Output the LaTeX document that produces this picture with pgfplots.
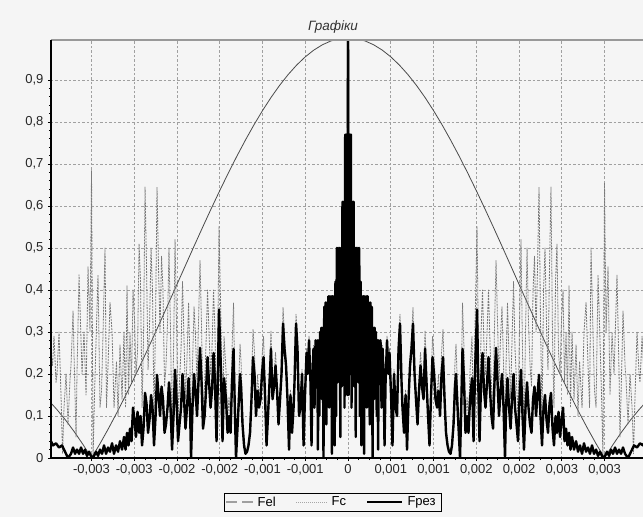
\documentclass[border=0pt]{standalone}
\usepackage{fontspec}
\setmainfont{Liberation Sans}
\usepackage{pgfplots}
\usepackage{pgfplotstable}
\pgfplotsset{compat=1.18}
\definecolor{bg}{HTML}{F5F5F5}
\definecolor{gridc}{HTML}{A0A0A0}
\definecolor{felc}{HTML}{4A4A4A}
\definecolor{fcc}{HTML}{7A7A7A}

% x in units of 1e-3
\pgfplotstableread{
x y
-3.474 0.1309
-3.4 0.1142
-3.3 0.0894
-3.2 0.0620
-3.1 0.0322
-3.0 0.0
-2.9 0.0344
-2.8 0.0709
-2.7 0.1093
-2.6 0.1494
-2.5 0.1910
-2.4 0.2339
-2.3 0.2778
-2.2 0.3226
-2.1 0.3679
-2.0 0.4135
-1.9 0.4591
-1.8 0.5046
-1.7 0.5495
-1.6 0.5936
-1.5 0.6366
-1.4 0.6784
-1.3 0.7185
-1.2 0.7568
-1.1 0.7931
-1.0 0.8270
-0.9 0.8584
-0.8 0.8871
-0.7 0.9128
-0.6 0.9355
-0.5 0.9549
-0.4 0.9710
-0.3 0.9836
-0.2 0.9927
-0.1 0.9982
0.0 1.0
0.1 0.9982
0.2 0.9927
0.3 0.9836
0.4 0.9710
0.5 0.9549
0.6 0.9355
0.7 0.9128
0.8 0.8871
0.9 0.8584
1.0 0.8270
1.1 0.7931
1.2 0.7568
1.3 0.7185
1.4 0.6784
1.5 0.6366
1.6 0.5936
1.7 0.5495
1.8 0.5046
1.9 0.4591
2.0 0.4135
2.1 0.3679
2.2 0.3226
2.3 0.2778
2.4 0.2339
2.5 0.1910
2.6 0.1494
2.7 0.1093
2.8 0.0709
2.9 0.0344
3.0 0.0
3.1 0.0322
3.2 0.0620
3.3 0.0894
3.4 0.1142
3.474 0.1309
}\felT

\pgfplotstableread{
x y
0.000 1.00
0.008 0.15
0.016 0.77
0.025 0.20
0.033 0.77
0.041 0.12
0.049 0.61
0.057 0.25
0.065 0.61
0.074 0.17
0.082 0.50
0.090 0.05
0.098 0.50
0.106 0.22
0.115 0.50
0.123 0.18
0.131 0.50
0.139 0.10
0.147 0.42
0.156 0.03
0.164 0.385
0.172 0.20
0.180 0.385
0.188 0.01
0.196 0.385
0.205 0.25
0.213 0.385
0.221 0.12
0.229 0.385
0.237 0.22
0.246 0.37
0.254 0.08
0.262 0.37
0.270 0.20
0.278 0.36
0.287 0.00
0.295 0.31
0.303 0.14
0.311 0.31
0.319 0.20
0.327 0.30
0.336 0.10
0.344 0.28
0.352 0.02
0.360 0.28
0.368 0.18
0.380 0.28
0.392 0.12
0.404 0.26
0.415 0.20
0.427 0.03
0.439 0.18
0.456 0.28
0.474 0.20
0.485 0.25
0.503 0.15
0.520 0.03
0.538 0.20
0.556 0.12
0.573 0.10
0.591 0.26
0.608 0.32
0.626 0.18
0.637 0.12
0.655 0.06
0.673 0.15
0.690 0.02
0.708 0.14
0.725 0.22
0.743 0.26
0.760 0.32
0.778 0.20
0.795 0.14
0.813 0.08
0.830 0.16
0.848 0.22
0.865 0.17
0.883 0.14
0.901 0.26
0.918 0.18
0.936 0.10
0.953 0.03
0.971 0.15
0.988 0.24
1.006 0.20
1.023 0.14
1.041 0.12
1.058 0.16
1.076 0.10
1.094 0.20
1.111 0.24
1.129 0.14
1.146 0.06
1.164 0.03
1.181 0.015
1.199 0.01
1.216 0.03
1.234 0.08
1.251 0.17
1.263 0.20
1.281 0.12
1.298 0.05
1.310 0.00
1.322 0.10
1.339 0.26
1.357 0.18
1.374 0.06
1.392 0.10
1.409 0.06
1.427 0.14
1.450 0.19
1.468 0.04
1.485 0.20
1.509 0.353
1.526 0.15
1.538 0.04
1.556 0.18
1.573 0.25
1.591 0.16
1.608 0.12
1.626 0.18
1.643 0.24
1.661 0.16
1.678 0.10
1.696 0.07
1.713 0.18
1.731 0.262
1.749 0.18
1.766 0.10
1.784 0.16
1.801 0.20
1.819 0.12
1.836 0.00
1.848 0.12
1.865 0.19
1.883 0.12
1.901 0.07
1.918 0.14
1.936 0.20
1.953 0.12
1.971 0.08
1.988 0.04
2.006 0.14
2.023 0.21
2.041 0.10
2.058 0.02
2.076 0.12
2.094 0.18
2.111 0.12
2.129 0.08
2.146 0.06
2.164 0.14
2.181 0.17
2.199 0.10
2.216 0.15
2.234 0.198
2.251 0.10
2.269 0.03
2.287 0.12
2.304 0.15
2.322 0.09
2.339 0.06
2.357 0.13
2.374 0.155
2.392 0.07
2.409 0.03
2.427 0.10
2.444 0.06
2.462 0.11
2.480 0.05
2.497 0.09
2.515 0.12
2.532 0.04
2.550 0.07
2.567 0.03
2.585 0.06
2.602 0.02
2.620 0.05
2.643 0.02
2.667 0.04
2.690 0.015
2.713 0.03
2.737 0.01
2.760 0.035
2.784 0.015
2.807 0.025
2.830 0.01
2.854 0.03
2.877 0.01
2.901 0.02
2.924 0.005
2.947 0.015
2.982 0.00
3.006 0.005
3.029 0.015
3.053 0.005
3.076 0.02
3.099 0.01
3.123 0.025
3.146 0.01
3.170 0.02
3.193 0.01
3.216 0.025
3.240 0.01
3.275 0.00
3.310 0.015
3.345 0.03
3.380 0.025
3.415 0.035
3.450 0.03
3.474 0.04
}\fresR

\pgfplotstableread{
x y
-0.000 1.00
-0.008 0.15
-0.016 0.77
-0.025 0.20
-0.033 0.77
-0.041 0.12
-0.049 0.61
-0.057 0.25
-0.065 0.61
-0.074 0.17
-0.082 0.50
-0.090 0.05
-0.098 0.50
-0.106 0.22
-0.115 0.50
-0.123 0.18
-0.131 0.50
-0.139 0.10
-0.147 0.42
-0.156 0.03
-0.164 0.385
-0.172 0.20
-0.180 0.385
-0.188 0.01
-0.196 0.385
-0.205 0.25
-0.213 0.385
-0.221 0.12
-0.229 0.385
-0.237 0.22
-0.246 0.37
-0.254 0.08
-0.262 0.37
-0.270 0.20
-0.278 0.36
-0.287 0.00
-0.295 0.31
-0.303 0.14
-0.311 0.31
-0.319 0.20
-0.327 0.30
-0.336 0.10
-0.344 0.28
-0.352 0.02
-0.360 0.28
-0.368 0.18
-0.380 0.28
-0.392 0.12
-0.404 0.26
-0.415 0.20
-0.427 0.03
-0.439 0.18
-0.456 0.28
-0.474 0.20
-0.485 0.25
-0.503 0.15
-0.520 0.03
-0.538 0.20
-0.556 0.12
-0.573 0.10
-0.591 0.26
-0.608 0.32
-0.626 0.18
-0.637 0.12
-0.655 0.06
-0.673 0.15
-0.690 0.02
-0.708 0.14
-0.725 0.22
-0.743 0.26
-0.760 0.32
-0.778 0.20
-0.795 0.14
-0.813 0.08
-0.830 0.16
-0.848 0.22
-0.865 0.17
-0.883 0.14
-0.901 0.26
-0.918 0.18
-0.936 0.10
-0.953 0.03
-0.971 0.15
-0.988 0.24
-1.006 0.20
-1.023 0.14
-1.041 0.12
-1.058 0.16
-1.076 0.10
-1.094 0.20
-1.111 0.24
-1.129 0.14
-1.146 0.06
-1.164 0.03
-1.181 0.015
-1.199 0.01
-1.216 0.03
-1.234 0.08
-1.251 0.17
-1.263 0.20
-1.281 0.12
-1.298 0.05
-1.310 0.00
-1.322 0.10
-1.339 0.26
-1.357 0.18
-1.374 0.06
-1.392 0.10
-1.409 0.06
-1.427 0.14
-1.450 0.19
-1.468 0.04
-1.485 0.20
-1.509 0.353
-1.526 0.15
-1.538 0.04
-1.556 0.18
-1.573 0.25
-1.591 0.16
-1.608 0.12
-1.626 0.18
-1.643 0.24
-1.661 0.16
-1.678 0.10
-1.696 0.07
-1.713 0.18
-1.731 0.262
-1.749 0.18
-1.766 0.10
-1.784 0.16
-1.801 0.20
-1.819 0.12
-1.836 0.00
-1.848 0.12
-1.865 0.19
-1.883 0.12
-1.901 0.07
-1.918 0.14
-1.936 0.20
-1.953 0.12
-1.971 0.08
-1.988 0.04
-2.006 0.14
-2.023 0.21
-2.041 0.10
-2.058 0.02
-2.076 0.12
-2.094 0.18
-2.111 0.12
-2.129 0.08
-2.146 0.06
-2.164 0.14
-2.181 0.17
-2.199 0.10
-2.216 0.15
-2.234 0.198
-2.251 0.10
-2.269 0.03
-2.287 0.12
-2.304 0.15
-2.322 0.09
-2.339 0.06
-2.357 0.13
-2.374 0.155
-2.392 0.07
-2.409 0.03
-2.427 0.10
-2.444 0.06
-2.462 0.11
-2.480 0.05
-2.497 0.09
-2.515 0.12
-2.532 0.04
-2.550 0.07
-2.567 0.03
-2.585 0.06
-2.602 0.02
-2.620 0.05
-2.643 0.02
-2.667 0.04
-2.690 0.015
-2.713 0.03
-2.737 0.01
-2.760 0.035
-2.784 0.015
-2.807 0.025
-2.830 0.01
-2.854 0.03
-2.877 0.01
-2.901 0.02
-2.924 0.005
-2.947 0.015
-2.982 0.00
-3.006 0.005
-3.029 0.015
-3.053 0.005
-3.076 0.02
-3.099 0.01
-3.123 0.025
-3.146 0.01
-3.170 0.02
-3.193 0.01
-3.216 0.025
-3.240 0.01
-3.275 0.00
-3.310 0.015
-3.345 0.03
-3.380 0.025
-3.415 0.035
-3.450 0.03
-3.474 0.04
}\fresL

\pgfplotstableread{
x y
0.392 0.123
0.404 0.268
0.415 0.206
0.427 0.031
0.439 0.186
0.456 0.291
0.474 0.208
0.485 0.261
0.503 0.157
0.520 0.031
0.538 0.211
0.556 0.127
0.573 0.106
0.591 0.277
0.608 0.342
0.626 0.193
0.637 0.129
0.655 0.065
0.673 0.163
0.690 0.022
0.708 0.154
0.725 0.243
0.743 0.289
0.760 0.358
0.778 0.224
0.795 0.158
0.813 0.091
0.830 0.182
0.848 0.251
0.865 0.196
0.883 0.162
0.901 0.303
0.918 0.211
0.936 0.118
0.953 0.036
0.971 0.179
0.988 0.289
1.006 0.242
1.023 0.170
1.041 0.148
1.058 0.198
1.076 0.125
1.094 0.252
1.111 0.306
1.129 0.180
1.146 0.077
1.164 0.039
1.181 0.020
1.199 0.013
1.216 0.040
1.234 0.107
1.251 0.229
1.263 0.271
1.281 0.164
1.298 0.069
1.310 0.000
1.322 0.140
1.339 0.369
1.357 0.258
1.374 0.087
1.392 0.146
1.409 0.088
1.427 0.208
1.450 0.289
1.468 0.061
1.485 0.310
1.509 0.552
1.526 0.237
1.538 0.064
1.556 0.30
1.573 0.40
1.591 0.26
1.608 0.20
1.626 0.30
1.643 0.40
1.661 0.27
1.678 0.17
1.696 0.12
1.713 0.31
1.731 0.47
1.749 0.32
1.766 0.18
1.784 0.29
1.801 0.36
1.819 0.22
1.836 0.00
1.848 0.22
1.865 0.37
1.883 0.24
1.901 0.14
1.918 0.28
1.936 0.42
1.953 0.26
1.971 0.18
1.988 0.09
2.006 0.32
2.023 0.52
2.041 0.25
2.058 0.05
2.076 0.30
2.094 0.50
2.111 0.32
2.129 0.22
2.146 0.17
2.164 0.40
2.181 0.48
2.199 0.30
2.216 0.45
2.234 0.645
2.251 0.33
2.269 0.10
2.287 0.40
2.304 0.50
2.322 0.31
2.339 0.21
2.357 0.46
2.374 0.645
2.392 0.28
2.409 0.12
2.427 0.42
2.444 0.51
2.462 0.25
2.480 0.20
2.497 0.33
2.515 0.40
2.532 0.18
2.550 0.30
2.567 0.15
2.585 0.41
2.602 0.12
2.620 0.30
2.643 0.14
2.667 0.27
2.690 0.10
2.708 0.23
2.737 0.12
2.760 0.30
2.784 0.37
2.807 0.22
2.825 0.12
2.842 0.50
2.865 0.30
2.883 0.16
2.901 0.12
2.924 0.436
2.947 0.28
2.965 0.15
2.982 0.00
3.000 0.655
3.018 0.30
3.041 0.455
3.064 0.15
3.088 0.30
3.111 0.20
3.146 0.436
3.170 0.20
3.181 0.05
3.205 0.25
3.216 0.35
3.240 0.22
3.251 0.19
3.275 0.08
3.298 0.20
3.322 0.12
3.339 0.01
3.357 0.15
3.380 0.30
3.404 0.20
3.415 0.18
3.439 0.29
3.456 0.22
3.474 0.25
}\fcR

\pgfplotstableread{
x y
-0.392 0.123
-0.404 0.268
-0.415 0.206
-0.427 0.031
-0.439 0.186
-0.456 0.291
-0.474 0.208
-0.485 0.261
-0.503 0.157
-0.520 0.031
-0.538 0.211
-0.556 0.127
-0.573 0.106
-0.591 0.277
-0.608 0.342
-0.626 0.193
-0.637 0.129
-0.655 0.065
-0.673 0.163
-0.690 0.022
-0.708 0.154
-0.725 0.243
-0.743 0.289
-0.760 0.358
-0.778 0.224
-0.795 0.158
-0.813 0.091
-0.830 0.182
-0.848 0.251
-0.865 0.196
-0.883 0.162
-0.901 0.303
-0.918 0.211
-0.936 0.118
-0.953 0.036
-0.971 0.179
-0.988 0.289
-1.006 0.242
-1.023 0.170
-1.041 0.148
-1.058 0.198
-1.076 0.125
-1.094 0.252
-1.111 0.306
-1.129 0.180
-1.146 0.077
-1.164 0.039
-1.181 0.020
-1.199 0.013
-1.216 0.040
-1.234 0.107
-1.251 0.229
-1.263 0.271
-1.281 0.164
-1.298 0.069
-1.310 0.000
-1.322 0.140
-1.339 0.369
-1.357 0.258
-1.374 0.087
-1.392 0.146
-1.409 0.088
-1.427 0.208
-1.450 0.289
-1.468 0.061
-1.485 0.310
-1.509 0.552
-1.526 0.237
-1.538 0.064
-1.556 0.30
-1.573 0.40
-1.591 0.26
-1.608 0.20
-1.626 0.30
-1.643 0.40
-1.661 0.27
-1.678 0.17
-1.696 0.12
-1.713 0.31
-1.731 0.47
-1.749 0.32
-1.766 0.18
-1.784 0.29
-1.801 0.36
-1.819 0.22
-1.836 0.00
-1.848 0.22
-1.865 0.37
-1.883 0.24
-1.901 0.14
-1.918 0.28
-1.936 0.42
-1.953 0.26
-1.971 0.18
-1.988 0.09
-2.006 0.32
-2.023 0.52
-2.041 0.25
-2.058 0.05
-2.076 0.30
-2.094 0.50
-2.111 0.32
-2.129 0.22
-2.146 0.17
-2.164 0.40
-2.181 0.48
-2.199 0.30
-2.216 0.45
-2.234 0.645
-2.251 0.33
-2.269 0.10
-2.287 0.40
-2.304 0.50
-2.322 0.31
-2.339 0.21
-2.357 0.46
-2.374 0.645
-2.392 0.28
-2.409 0.12
-2.427 0.42
-2.444 0.51
-2.462 0.25
-2.480 0.20
-2.497 0.33
-2.515 0.40
-2.532 0.18
-2.550 0.30
-2.567 0.15
-2.585 0.41
-2.602 0.12
-2.620 0.30
-2.643 0.14
-2.667 0.27
-2.690 0.10
-2.708 0.23
-2.737 0.12
-2.760 0.30
-2.784 0.37
-2.807 0.22
-2.825 0.12
-2.842 0.50
-2.865 0.30
-2.883 0.16
-2.901 0.12
-2.924 0.436
-2.947 0.28
-2.965 0.15
-2.982 0.00
-3.000 0.685
-3.018 0.30
-3.041 0.455
-3.064 0.15
-3.088 0.30
-3.111 0.20
-3.146 0.436
-3.170 0.20
-3.181 0.05
-3.205 0.25
-3.216 0.35
-3.240 0.22
-3.251 0.19
-3.275 0.08
-3.298 0.20
-3.322 0.12
-3.339 0.01
-3.357 0.15
-3.380 0.30
-3.404 0.20
-3.415 0.18
-3.439 0.29
-3.456 0.22
-3.474 0.25
}\fcL

\begin{document}
\begin{tikzpicture}
% page: 643pt x 517pt, axis box lower-left corner at the origin
\fill[bg] (-51pt,-59pt) rectangle (592pt,458pt);
\useasboundingbox (-51pt,-59pt) rectangle (592pt,458pt);
\node[font=\itshape\fontsize{13.5}{15}\selectfont, text=black!80] at (282pt,431pt) {Графіки};
\begin{axis}[
    at={(0pt,0pt)}, anchor=south west,
    width=592pt, height=418pt, scale only axis,
    xmin=-3.474, xmax=3.45, ymin=0, ymax=0.995,
    clip mode=individual,
    axis line style={draw=none},
    axis background/.style={fill=bg},
    xtick={-3,-2.5,-2,-1.5,-1,-0.5,0,0.5,1,1.5,2,2.5,3},
    xticklabels={{-0,003},{-0,003},{-0,002},{-0,002},{-0,001},{-0,001},0,{0,001},{0,001},{0,002},{0,002},{0,003},{0,003}},
    ytick={0,0.1,0.2,0.3,0.4,0.5,0.6,0.7,0.8,0.9},
    yticklabels={0,{0,1},{0,2},{0,3},{0,4},{0,5},{0,6},{0,7},{0,8},{0,9}},
    xtick pos=bottom, ytick pos=left,
    minor x tick num=3, minor y tick num=4,
    tick align=outside,
    major tick length=3pt, minor tick length=2pt,
    tick style={black, line width=0.6pt},
    grid=major,
    major grid style={gridc, line width=0.6pt, dash pattern=on 2.5pt off 2pt},
    ticklabel style={font=\fontsize{13}{15}\selectfont, text=black!85},
    yticklabel style={xshift=-1pt},
    legend columns=-1,
    legend style={at={(0.4755,-0.0837)}, anchor=north, draw=black, fill=bg,
        font=\fontsize{13}{15}\selectfont, inner sep=1.5pt,
        nodes={inner xsep=4pt},
        /tikz/every even column/.append style={column sep=16pt}},
]
\addplot[felc, line width=0.8pt, line join=round,
    legend image code/.code={\draw[gray!75, line width=1.3pt, dash pattern=on 11pt off 5pt] (0pt,0pt) -- (27pt,0pt);}]
    table {\felT};
\addlegendentry{Fel}
\addplot[fcc, line width=0.8pt, dash pattern=on 2pt off 1pt, line join=round,
    legend image code/.code={\draw[gray!70, line width=0.9pt, dash pattern=on 1pt off 1pt] (0pt,0pt) -- (31pt,0pt);}]
    table {\fcR};
\addlegendentry{Fc}
\addplot[fcc, line width=0.8pt, dash pattern=on 2pt off 1pt, line join=round, forget plot]
    table {\fcL};
\addplot[black, line width=2.4pt, line join=round,
    legend image code/.code={\draw[black, line width=2.4pt] (0pt,0pt) -- (35pt,0pt);}]
    table {\fresR};
\addlegendentry{Fрез}
\addplot[black, line width=2.4pt, line join=round, forget plot]
    table {\fresL};
\draw[gray!80, line width=1.5pt] (rel axis cs:0,1) -- (rel axis cs:1,1);
\draw[black, line width=2pt] (rel axis cs:0,0) -- (rel axis cs:1,0);
\draw[black, line width=2.5pt] (rel axis cs:0,0) -- (rel axis cs:0,1);
\end{axis}
\end{tikzpicture}
\end{document}
